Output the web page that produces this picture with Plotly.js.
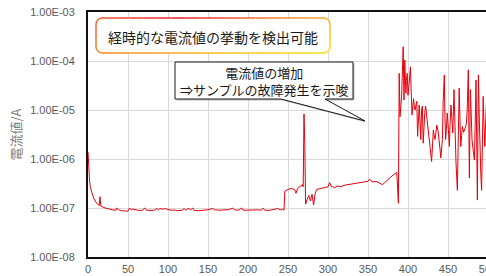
<!DOCTYPE html>
<html>
<head>
<meta charset="utf-8">
<script src="https://cdn.plot.ly/plotly-3.0.1.min.js"></script>
<style>
html,body{margin:0;padding:0;overflow:hidden;background:#fff;}
#chart{width:540px;height:276px;}
</style>
</head>
<body>
<div id="chart"></div>
<script>
// ---- data ----
const cycles = [
  0,1,2,3,5,7,10,13,14,15,16,20,25,30,35,36,38,42,48,50,52,54,56,60,64,68,71,73,78,82,86,88,90,92,96,100,
  104,108,112,118,120,122,126,128,131,133,138,144,150,156,158,164,170,176,181,183,188,192,194,200,206,212,216,219,221,226,232,238,240,243,245,
  246,250,254,258,260,262,266,268,269,270,271,272,274,276,278,280,282,284,286,290,295,300,302,304,308,312,316,320,325,330,335,340,345,350,352,355,360,364,368,370,374,378,382,386,
  388,389,390,391,392,393,394,395,396,397,397.5,398,399,400,401,402,403,404,405,406,407,408,409,410,411,412,413,414,415,416,417,418,419,420,421,422,423,424,425,426,
  427.5,429.5,430.5,431.7,432.5,433.75,435,436,437.5,439,440,441,442,443,444,445.4,446,447,448,449,450.5,451.7,452.5,453.75,455,456,457.5,458.5,460,461.7,
  463,464,465,466,467,468,469.5,471,472,473,474,475.4,476.7,478,479,480,481.5,483,484,485,486.7,488,489,490,491,492,493,494,495,496,497.5,499,500,502,504,506
];
const currentA = [
  1.4e-6,6e-7,3.5e-7,2.6e-7,2.0e-7,1.6e-7,1.3e-7,1.15e-7,1.12e-7,1.7e-7,1.1e-7,1.02e-7,9.6e-8,9.2e-8,9.0e-8,1.0e-7,9.3e-8,8.8e-8,8.7e-8,8.6e-8,1.0e-7,9.2e-8,9.5e-8,9.1e-8,8.9e-8,9.0e-8,1.0e-7,9.0e-8,8.8e-8,8.9e-8,9.8e-8,9.1e-8,9.9e-8,9.4e-8,9.7e-8,9.2e-8,
  9.0e-8,9.1e-8,8.8e-8,9.0e-8,9.8e-8,9.0e-8,9.9e-8,9.1e-8,1.0e-7,8.9e-8,8.8e-8,9.0e-8,9.2e-8,9.8e-8,9.2e-8,9.0e-8,9.1e-8,9.3e-8,9.9e-8,9.2e-8,9.0e-8,1.0e-7,9.0e-8,8.9e-8,9.1e-8,9.2e-8,9.0e-8,9.9e-8,9.0e-8,8.9e-8,9.2e-8,9.8e-8,9.1e-8,9.5e-8,9.0e-8,
  2.2e-7,2.4e-7,2.5e-7,2.4e-7,2.0e-7,2.5e-7,2.8e-7,3.0e-7,2.7e-7,8.3e-6,2.0e-6,1.2e-7,1.5e-7,1.8e-7,1.4e-7,1.9e-7,1.15e-7,2.0e-7,2.4e-7,2.5e-7,2.6e-7,2.7e-7,3.3e-7,2.8e-7,2.6e-7,2.8e-7,2.7e-7,2.9e-7,3.0e-7,3.1e-7,3.2e-7,3.3e-7,3.4e-7,3.5e-7,3.9e-7,3.4e-7,3.5e-7,3.3e-7,3.0e-7,3.2e-7,3.6e-7,4.2e-7,4.8e-7,5.3e-7,
  1.25e-7,5.6e-5,7.3e-6,1.2e-5,1.9e-5,6e-5,1.95e-4,1.6e-5,1.05e-4,3e-5,2.2e-5,4e-5,5.6e-5,2.0e-5,2.8e-5,4.5e-5,7.6e-5,2.5e-5,7.9e-6,1.2e-5,1.7e-5,1.1e-5,1.0e-5,1.3e-5,1.5e-5,2.9e-6,8e-6,1.26e-5,6e-6,2.5e-6,1.0e-5,1.2e-5,2.1e-6,6e-6,9e-6,1.2e-5,8e-6,5.4e-6,4e-6,3e-6,
  1.8e-6,8.9e-7,2e-6,3.9e-6,3.2e-6,2.5e-6,3.5e-6,4.9e-6,3.8e-6,2.5e-6,1.6e-6,1.05e-6,1.8e-6,2.5e-6,1.5e-5,5.2e-5,1e-5,2.5e-6,4e-6,8.7e-6,4e-6,1.8e-6,5e-6,1.26e-5,6e-6,3.4e-6,2.6e-5,5e-6,8.3e-7,2.3e-7,
  3e-6,2.8e-5,6e-6,1.8e-6,3e-6,4.6e-6,3.5e-6,3.9e-6,4.5e-6,5.4e-6,1e-5,6.6e-5,4.1e-7,2.6e-5,8e-6,2.5e-6,1.5e-6,9.5e-7,5e-6,4.1e-5,1.45e-7,5.2e-5,8e-6,1.1e-6,5e-7,2.3e-7,3e-6,1.9e-5,5e-6,1.8e-6,8.7e-6,3e-5,4e-6,2e-5,1e-6,1.5e-5
];
const yTickVals = [1e-8,1e-7,1e-6,1e-5,1e-4,1e-3];
const yTickText = ["1.00E-08","1.00E-07","1.00E-06","1.00E-05","1.00E-04","1.00E-03"];
const xTickVals = [0,50,100,150,200,250,300,350,400,450,500];
const yTitle = "電流値/A";
const note1 = "経時的な電流値の挙動を検出可能";
const note2 = ["電流値の増加", "⇒サンプルの故障発生を示唆"];

// ---- geometry helpers (pixel -> paper) ----
const W = 540, H = 276, ML = 88, MR = 12, MT = 12, MB = 19;
const PW = W - ML - MR, PH = H - MT - MB;
const px = p => (p - ML) / PW;
const py = p => (H - MB - p) / PH;

const shapes = [];
// gradient rounded box
const bx0 = 96, bx1 = 330, by0 = 18, by1 = 53, br = 6;
shapes.push({type:'path', xref:'paper', yref:'paper', layer:'above', fillcolor:'#ffffff', line:{width:0},
  path:`M${px(bx0+br)},${py(by0)} L${px(bx1-br)},${py(by0)} Q${px(bx1)},${py(by0)} ${px(bx1)},${py(by0+br)} L${px(bx1)},${py(by1-br)} Q${px(bx1)},${py(by1)} ${px(bx1-br)},${py(by1)} L${px(bx0+br)},${py(by1)} Q${px(bx0)},${py(by1)} ${px(bx0)},${py(by1-br)} L${px(bx0)},${py(by0+br)} Q${px(bx0)},${py(by0)} ${px(bx0+br)},${py(by0)} Z`});
function lerp(a,b,t){return a.map((v,i)=>v+(b[i]-v)*t);}
function stops(list,u){for(let i=0;i<list.length-1;i++){const [u0,c0]=list[i],[u1,c1]=list[i+1];if(u<=u1)return lerp(c0,c1,(u-u0)/(u1-u0));}return list[list.length-1][1];}
const topStops=[[0,[242,101,58]],[0.35,[238,45,60]],[0.7,[244,120,60]],[1,[249,178,51]]];
const botStops=[[0,[246,140,45]],[0.5,[250,190,45]],[1,[255,228,26]]];
function gcol(x,y){const u=(x-bx0)/(bx1-bx0),v=(y-by0)/(by1-by0);const c=lerp(stops(topStops,u),stops(botStops,u),v);return `rgb(${c.map(Math.round).join(',')})`;}
const pts=[];
function edge(ax,ay,bx,by,n){for(let i=0;i<n;i++){pts.push([ax+(bx-ax)*i/n, ay+(by-ay)*i/n]);}}
function arc(cx,cy,a0,a1,n){for(let i=0;i<n;i++){const a=a0+(a1-a0)*i/n;pts.push([cx+br*Math.cos(a),cy+br*Math.sin(a)]);}}
edge(bx0+br,by0,bx1-br,by0,16); arc(bx1-br,by0+br,-Math.PI/2,0,3);
edge(bx1,by0+br,bx1,by1-br,3); arc(bx1-br,by1-br,0,Math.PI/2,3);
edge(bx1-br,by1,bx0+br,by1,16); arc(bx0+br,by1-br,Math.PI/2,Math.PI,3);
edge(bx0,by1-br,bx0,by0+br,3); arc(bx0+br,by0+br,Math.PI,1.5*Math.PI,3);
for(let i=0;i<pts.length;i++){const a=pts[i],b=pts[(i+1)%pts.length];
  shapes.push({type:'line',xref:'paper',yref:'paper',layer:'above',x0:px(a[0]),y0:py(a[1]),x1:px(b[0]),y1:py(b[1]),
    line:{color:gcol((a[0]+b[0])/2,(a[1]+b[1])/2),width:1.6}});}

// speech bubble
function bubble(dx,dy){const P=(x,y)=>`${px(x+dx)},${py(y+dy)}`;
  return `M${P(175,62)} L${P(353,62)} L${P(353,99)} L${P(325,99)} L${P(365,121)} L${P(281,99)} L${P(175,99)} Z`;}
shapes.push({type:'path',xref:'paper',yref:'paper',layer:'above',path:bubble(1.5,1.5),fillcolor:'rgba(0,0,0,0.25)',line:{width:0}});
shapes.push({type:'path',xref:'paper',yref:'paper',layer:'above',path:bubble(0,0),fillcolor:'#ffffff',line:{color:'#1a1a1a',width:1}});

const cjk = '"Noto Sans CJK JP", "Noto Sans", sans-serif';
const annotations = [
  {xref:'paper',yref:'paper',x:px(213),y:py(37),xanchor:'center',yanchor:'middle',showarrow:false,text:note1,font:{family:cjk,size:14,color:'#1a1a1a'}},
  {xref:'paper',yref:'paper',x:px(264),y:py(80.5),xanchor:'center',yanchor:'middle',align:'center',showarrow:false,text:note2.join('<br>'),font:{family:cjk,size:13,color:'#1a1a1a'}}
];

const trace = {x:cycles, y:currentA, type:'scatter', mode:'lines', line:{color:'#e8000b', width:1}, hoverinfo:'skip'};

const layout = {
  width:W, height:H, margin:{l:ML,r:MR,t:MT,b:MB,pad:0},
  paper_bgcolor:'#ffffff', plot_bgcolor:'#ffffff', showlegend:false,
  font:{family:'"Liberation Sans", Arial, sans-serif', size:11, color:'#595959'},
  xaxis:{range:[0,550], tickmode:'array', tickvals:xTickVals, ticks:'', showgrid:true, gridcolor:'#d9d9d9', gridwidth:1,
    showline:true, linecolor:'#111111', linewidth:2, mirror:true, zeroline:false, ticklabelstandoff:1,
    tickfont:{size:11,color:'#595959'}},
  yaxis:{type:'log', range:[-8,-3], tickmode:'array', tickvals:yTickVals, ticktext:yTickText, ticks:'', showgrid:true, gridcolor:'#d9d9d9', gridwidth:1,
    showline:true, linecolor:'#111111', linewidth:2, mirror:true, zeroline:false, ticklabelstandoff:9,
    tickfont:{size:11,color:'#595959'},
    title:{text:yTitle, standoff:6, font:{family:cjk,size:13,color:'#7f7f7f'}}},
  shapes:shapes, annotations:annotations
};
Plotly.newPlot('chart',[trace],layout,{staticPlot:true,displayModeBar:false});
</script>
</body>
</html>
